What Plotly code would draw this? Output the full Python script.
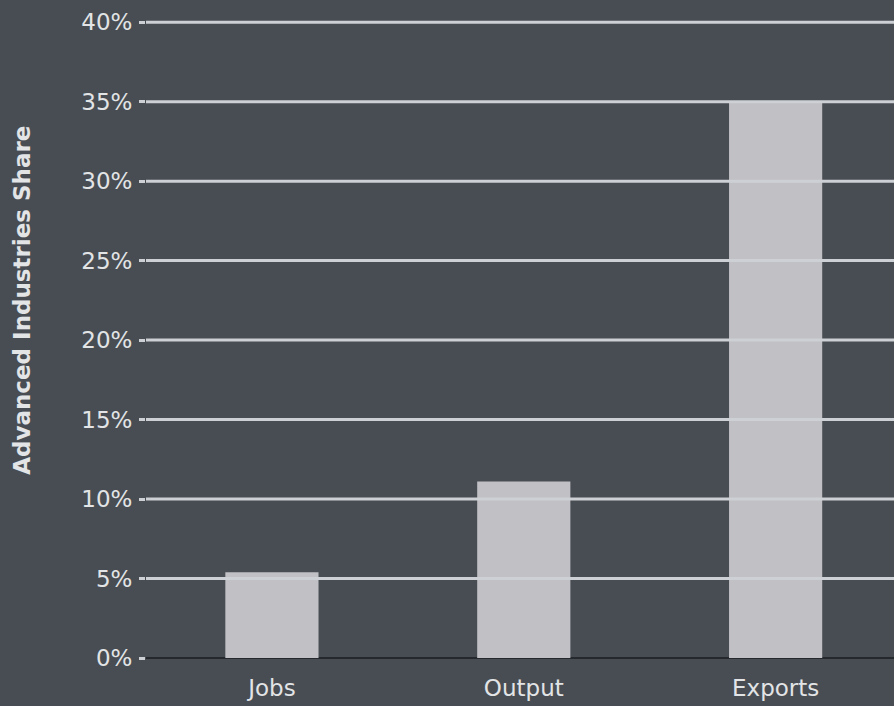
import plotly.graph_objects as go

categories = ["Jobs", "Output", "Exports"]
shares = [5.4, 11.1, 35.0]
tick_vals = [0, 5, 10, 15, 20, 25, 30, 35, 40]
tick_text = ["0%", "5%", "10%", "15%", "20%", "25%", "30%", "35%", "40%"]
y_title = "Advanced Industries Share"

bg = "#484d53"
grid = "#cdd0d4"
txt = "#e2e4e6"
fnt = "DejaVu Sans, sans-serif"

fig = go.Figure(go.Bar(
    x=categories, y=shares, width=0.37,
    marker=dict(color="#c1c1c5", line=dict(width=0)),
    hoverinfo="skip",
))
# gridlines drawn over the bars, as in the reference
for v in tick_vals[1:]:
    fig.add_shape(type="line", xref="paper", yref="y", x0=0, x1=1, y0=v, y1=v,
                  line=dict(color=grid, width=3), layer="above")
fig.add_annotation(text="<b>" + y_title + "</b>", xref="paper", yref="paper",
                   x=-0.185, y=0.56, textangle=-90, showarrow=False,
                   font=dict(family=fnt, size=23, color=txt))
fig.update_layout(
    width=894, height=706,
    paper_bgcolor=bg, plot_bgcolor=bg,
    margin=dict(l=146, r=0, t=19, b=48),
    font=dict(family=fnt, color=txt, size=23),
    showlegend=False,
)
fig.update_xaxes(
    range=[-0.5, 2.47], showgrid=False, showline=False, ticks="",
    tickfont=dict(family=fnt, size=23, color=txt), ticklabelstandoff=14,
    fixedrange=True,
)
fig.update_yaxes(
    range=[0, 40.2], tickvals=tick_vals, ticktext=tick_text,
    showgrid=False,
    zeroline=True, zerolinecolor="#25292e", zerolinewidth=2,
    ticks="outside", ticklen=6, tickcolor=grid, tickwidth=3,
    tickfont=dict(family=fnt, size=23, color=txt), ticklabelstandoff=2,
    layer="above traces",
)
fig.write_html("out.html")
